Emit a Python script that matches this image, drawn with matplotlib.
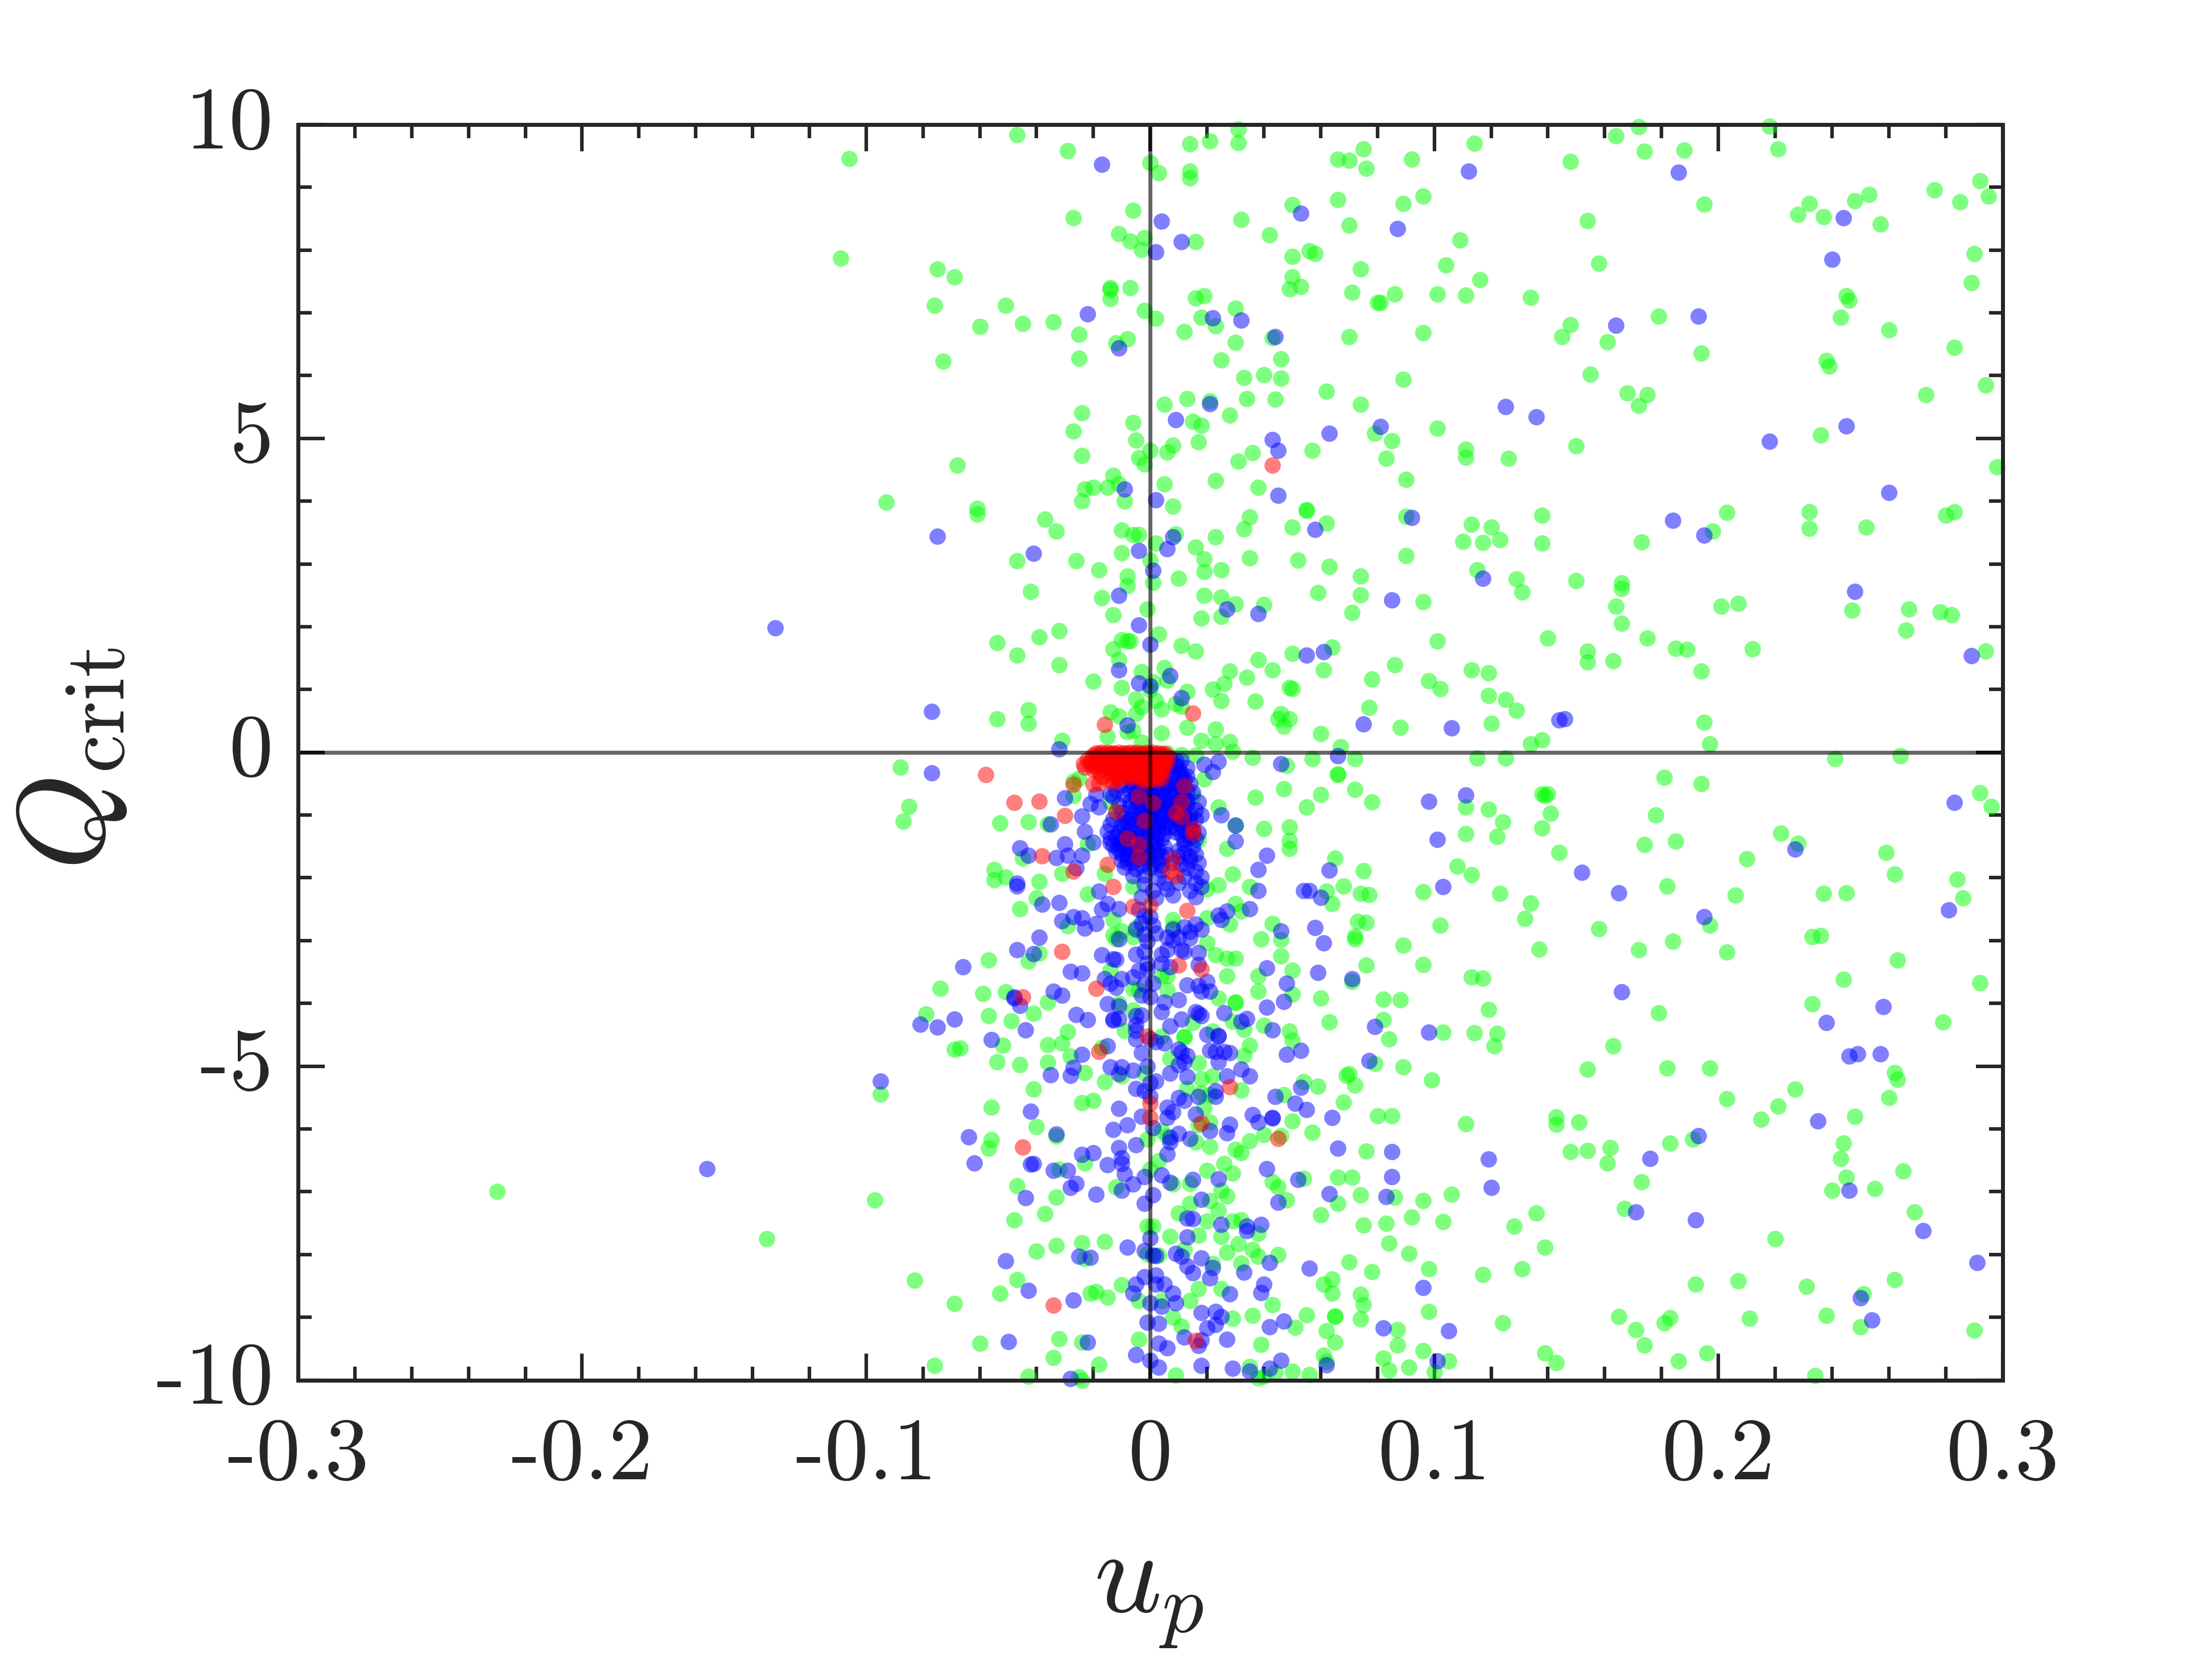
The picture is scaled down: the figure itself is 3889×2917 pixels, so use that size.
import matplotlib
matplotlib.use("Agg")
import matplotlib.pyplot as plt
from matplotlib.ticker import MultipleLocator
from matplotlib.transforms import ScaledTranslation

plt.rcParams['mathtext.fontset'] = 'cm'
plt.rcParams['axes.unicode_minus'] = False

x_ticks = [-0.3, -0.2, -0.1, 0, 0.1, 0.2, 0.3]
x_labels = ['-0.3', '-0.2', '-0.1', '0', '0.1', '0.2', '0.3']
y_ticks = [-10, -5, 0, 5, 10]
y_labels = ['-10', '-5', '0', '5', '10']

green_right_top = [
(.114,9.70),(.148,9.41),(.164,9.82),(.172,9.96),(.174,9.57),(.188,9.59),(.218,9.97),(.221,9.61),(.195,8.73),(.096,8.86),
(.154,8.47),(.109,8.16),(.104,7.76),(.116,7.53),(.101,7.30),(.111,7.28),(.134,7.25),(.158,7.79),(.148,6.81),(.145,6.62),
(.161,6.54),(.179,6.95),(.194,6.36),(.155,6.02),(.168,5.72),(.175,5.70),(.172,5.52),(.096,6.68),(.101,5.16),(.111,4.83),
(.111,4.70),(.126,4.68),(.150,4.88),(.138,3.78),(.113,3.63),(.120,3.59),(.123,3.39),(.110,3.36),(.117,3.34),(.138,3.33),
(.115,2.91),(.129,2.76),(.131,2.55),(.150,2.73),(.166,2.70),(.166,2.61),(.164,2.33),(.166,2.05),(.175,1.82),(.140,1.82),
(.154,1.61),(.154,1.44),(.163,1.46),(.185,1.66),(.189,1.64),(.212,1.65),(.194,1.29),(.101,1.77),(.113,1.31),(.119,1.27),
(.098,1.14),(.102,1.01),(.119,.90),(.125,.84),(.129,.67),(.120,.46),(.195,.48),(.134,.13),(.138,.20),(.197,.13),
(.096,2.40),(.198,3.52),(.203,3.82),(.173,3.35),(.201,2.33),(.207,2.37),(.247,2.26),(.267,2.28),(.278,2.24),(.282,2.19),
(.266,1.95),(.294,1.61),(.232,3.83),(.232,3.57),(.252,3.59),(.280,3.78),(.283,3.83),(.298,4.55),(.236,5.05),(.273,5.70),
(.294,5.85),(.283,6.45),(.260,6.73),(.238,6.24),(.239,6.15),(.243,6.93),(.245,7.27),(.246,7.20),(.289,7.48),(.290,7.94),
(.276,8.96),(.285,8.77),(.292,9.10),(.295,8.86),(.253,8.89),(.248,8.79),(.232,8.74),(.228,8.57),(.237,8.53),(.257,8.41),
]
green_right_bottom = [
(.115,-.09),(.125,-.09),(.241,-.10),(.264,-.06),(.181,-.40),(.194,-.50),(.292,-.65),(.296,-.86),(.111,-.87),(.119,-.91),
(.138,-.66),(.140,-.66),(.139,-.69),(.141,-.97),(.138,-1.21),(.124,-1.11),(.111,-1.30),(.122,-1.34),(.144,-1.60),(.178,-1.00),
(.174,-1.47),(.185,-1.42),(.222,-1.29),(.228,-1.45),(.210,-1.70),(.259,-1.60),(.262,-1.94),(.284,-2.02),(.286,-2.32),(.237,-2.25),
(.245,-2.24),(.206,-2.28),(.182,-2.13),(.108,-1.81),(.113,-1.95),(.096,-2.22),(.123,-2.25),(.134,-2.40),(.132,-2.65),(.102,-2.76),
(.158,-2.81),(.197,-2.76),(.233,-2.94),(.236,-2.92),(.184,-3.01),(.172,-3.15),(.137,-3.14),(.203,-3.18),(.096,-3.38),(.113,-3.58),
(.117,-3.60),(.263,-3.31),(.244,-3.62),(.292,-3.67),(.233,-4.01),(.179,-4.15),(.279,-4.30),(.119,-4.10),(.103,-4.46),(.114,-4.47),
(.122,-4.48),(.121,-4.68),(.163,-4.68),(.099,-5.22),(.154,-5.05),(.182,-5.03),(.197,-5.03),(.203,-5.52),(.227,-5.37),(.221,-5.64),
(.215,-5.85),(.262,-5.10),(.263,-5.21),(.260,-5.50),(.248,-5.80),(.244,-6.23),(.243,-6.47),(.245,-6.77),(.240,-6.98),(.255,-6.95),
(.265,-6.67),(.269,-7.32),(.143,-5.81),(.143,-5.93),(.151,-5.89),(.111,-5.92),(.148,-6.36),(.154,-6.34),(.162,-6.30),(.161,-6.54),
(.173,-6.84),(.183,-6.23),(.191,-6.16),(.106,-7.04),(.096,-7.14),(.103,-7.48),(.136,-7.34),(.128,-7.55),(.139,-7.88),(.167,-7.27),
(.098,-8.23),(.117,-8.32),(.131,-8.23),(.220,-7.75),(.192,-8.47),(.207,-8.42),(.231,-8.51),(.262,-8.40),(.251,-8.63),(.098,-8.91),
(.124,-9.09),(.165,-8.99),(.183,-9.01),(.181,-9.09),(.171,-9.20),(.174,-9.44),(.211,-9.02),(.238,-8.97),(.250,-9.15),(.290,-9.21),
(.096,-9.53),(.139,-9.57),(.143,-9.72),(.105,-9.70),(.100,-9.87),(.186,-9.70),(.196,-9.57),(.234,-9.93),
]
green_centre_top = [
(-.047,9.84),(-.029,9.58),(-.106,9.46),(0,9.39),(.003,9.23),(.014,9.69),(.021,9.74),(.031,9.93),(.031,9.71),(.014,9.26),
(.014,9.15),(.066,9.45),(.070,9.43),(.075,9.61),(.076,9.30),(.092,9.45),(.089,8.74),(.066,8.80),(.070,8.40),
(.074,7.70),(.050,8.72),(.032,8.49),(.042,8.24),(.016,8.13),(-.006,8.63),(-.027,8.51),(-.011,8.26),(-.007,8.14),(-.002,8.20),
(-.003,8.01),(.050,7.90),(.056,7.99),(.058,7.94),(.050,7.57),(.053,7.42),(.049,7.38),(.071,7.33),(.080,7.16),(.081,7.16),
(.086,7.30),(.070,6.62),(-.075,7.70),(-.069,7.57),(-.076,7.12),(-.051,7.12),(-.060,6.78),(-.045,6.83),(-.034,6.86),
(-.025,6.66),(-.073,6.23),(-.025,6.28),(-.012,6.52),(-.008,6.58),(-.007,7.40),(-.014,7.40),(-.014,7.37),(-.014,7.23),(-.002,7.04),
(.002,6.91),(.012,6.70),(.016,7.24),(.019,7.27),(.030,7.07),(.018,6.93),(.023,6.79),(.030,6.53),(.043,6.60),(.046,6.27),
(.025,6.25),(.033,5.97),(.040,6.01),(.046,5.96),(.089,5.94),(.034,5.63),(.044,5.62),(.062,5.75),(.074,5.54),(.021,5.60),
(.013,5.63),(.005,5.54),(.028,5.37),(.015,5.27),(.018,5.21),(-.024,5.41),(-.006,5.25),(-.027,5.12),(-.005,4.97),(.008,4.89),
(.006,4.78),(.017,4.94),(0,4.81),(-.004,4.69),(-.002,4.59),(-.024,4.73),(-.068,4.57),(.036,4.77),(.031,4.64),(.057,4.81),
(.079,5.08),(.085,4.96),(.083,4.68),(.090,4.35),(.023,4.33),(.038,4.22),(.005,4.27),(-.013,4.41),(-.011,4.27),(-.023,4.19),
(-.020,4.22),(-.015,4.22),(-.009,4.00),(-.024,4.00),(.008,3.92),(-.093,3.98),(-.061,3.88),(-.061,3.79),(-.037,3.71),(-.033,3.52),
(.055,3.87),(.055,3.85),(.035,3.75),(.033,3.56),(.050,3.59),(.062,3.65),(.090,3.76),(-.010,3.54),(-.006,3.47),(-.004,3.47),
(.009,3.48),(.002,3.33),(.023,3.43),(.016,3.27),(.019,3.08),(-.010,3.18),(-.047,3.05),(-.026,3.05),(-.018,2.91),(0,3.06),
(.035,3.10),(.052,3.06),(.063,2.96),(.090,3.13),(.074,2.81),(.019,2.88),(.025,2.91),(-.008,2.81),(-.008,2.65),(.001,2.71),
(.010,2.77),(-.042,2.56),(-.017,2.46),(.019,2.50),(.025,2.47),(.030,2.36),(.040,2.35),(.025,2.16),(.018,2.14),(.059,2.54),
(.074,2.51),(.071,2.23),(-.001,2.28),(-.013,2.19),(-.032,1.94),(-.039,1.84),(-.054,1.75),(-.047,1.55),(.003,1.88),
(-.010,1.79),(-.008,1.77),(-.007,1.77),(-.013,1.65),(-.011,1.47),(.011,1.70),(.016,1.61),(-.032,1.39),(-.020,1.13),(-.003,1.28),
(.005,1.35),(.038,1.47),(.050,1.57),(.064,1.67),(.043,1.31),(.028,1.29),(.034,1.19),(.061,1.31),(.086,1.39),(.078,1.17),
(-.010,1.03),(.001,1.12),(.006,1.15),(.049,1.03),(.050,1.01),(.026,1.09),(.022,1.00),(.013,.97),(-.109,7.87),
]
green_centre_mid = [
(-.054,.53),(-.043,.68),(-.043,.46),(-.031,.19),(-.014,.64),(-.011,.58),(-.005,.85),(-.003,.72),(-.005,.61),(-.006,.34),
(-.008,.32),(-.015,.25),(-.003,.16),(0,.99),(.002,.82),(.004,.69),(.004,.31),(.009,.78),(.011,.73),(.013,.40),
(.018,.19),(.023,.13),(.023,.37),(.028,.17),(.029,.02),(.036,-.08),(.025,.82),
(.037,.81),(.045,.53),(.046,.61),(.049,.53),(.047,.41),(.048,-.21),(.047,-.58),(.037,-.72),(.055,-.87),(.011,-.04),
(.016,-.05),(.006,-.01),(.019,-.43),(.015,-.70),(.024,-.87),(.030,-1.16),(.040,-1.22),(.049,-1.19),(.049,-1.41),(.049,-1.53),
(.027,-1.53),(.017,-1.40),(-.027,-.69),(-.027,-.46),(-.025,-.42),(-.053,-1.13),(-.043,-1.11),(-.036,-1.14),(-.014,-.79),(-.012,-.95),
(-.022,-1.46),(-.045,-1.69),(-.055,-1.87),(-.055,-2.03),(-.051,-1.99),(-.039,-2.06),(-.031,-1.93),(-.016,-1.93),(-.040,-2.32),(-.046,-2.49),
(-.022,-2.26),(-.006,-2.14),(.020,-2.18),(.029,-1.94),(.024,-2.11),(.035,-2.14),(.030,-2.41),(.032,-2.53),(.028,-2.74),(.020,-2.64),
(.008,-2.67),(.043,-2.73),(.046,-2.98),(.039,-2.97),(-.013,-2.67),(-.029,-2.77),(-.013,-2.91),(-.010,-2.85),(-.005,-2.79),(-.006,-2.94),
(.008,-2.79),(.077,.71),(.088,.40),(.060,.30),(.067,.09),(.057,-.10),(.072,-.10),(.066,-.36),(.066,-.35),(.072,-.59),
(.060,-.67),(.078,-.79),(.065,-1.69),(.075,-1.89),(.068,-2.13),(.062,-2.21),(.064,-2.41),(.074,-2.25),(.077,-2.27),
(.073,-2.69),(.076,-2.71),(.072,-2.93),(.089,-3.07),
(-.088,-.24),(-.085,-.86),(-.087,-1.10),
]
green_centre_low = [
(-.057,-3.31),(-.039,-3.20),(-.043,-3.33),(-.074,-3.76),(-.059,-3.84),(-.051,-3.82),(-.036,-3.98),(-.079,-4.17),(-.057,-4.20),(-.049,-4.28),
(-.041,-4.16),(-.029,-4.45),(-.036,-4.66),(-.031,-4.63),(-.052,-4.67),(-.069,-4.73),(-.067,-4.71),(-.054,-4.93),(-.046,-4.98),(-.036,-4.94),
(-.028,-4.84),(-.023,-5.10),(-.016,-5.25),(-.010,-5.16),(-.041,-5.37),(-.024,-5.58),(-.020,-5.55),(-.095,-5.45),(-.056,-5.66),(-.040,-5.96),
(-.033,-6.12),(-.056,-6.17),(-.057,-6.31),(-.023,-6.54),(-.032,-6.64),(-.047,-6.91),(-.033,-7.09),(-.097,-7.13),(-.037,-7.35),(-.048,-7.45),
(-.012,-6.92),(-.001,-6.16),(0,-6.64),(.003,-6.51),(.008,-6.88),(.014,-6.87),(.016,-6.21),(.021,-6.28),(.030,-6.33),(.032,-6.38),
(.035,-6.19),(.026,-6.55),(.020,-6.66),(.029,-6.71),(.025,-6.98),(.027,-7.07),(.021,-7.14),(.014,-7.19),(.024,-7.30),(.010,-7.34),
(.020,-7.47),(.029,-7.47),(.032,-7.45),(-.001,-7.55),(.001,-7.55),(.007,-7.71),(.017,-7.69),(.025,-7.71),(.038,-7.67),(.031,-7.83),
(.012,-7.92),(.027,-7.97),(.036,-7.92),(.038,-8.03),(.045,-8.00),(.003,-8.01),(-.001,-7.99),(.022,-8.15),(.032,-8.14),(-.024,-7.81),
(-.016,-7.79),(-.033,-7.86),(-.040,-7.95),(-.023,-8.07),(-.083,-8.41),(-.047,-8.40),(-.053,-8.62),(-.010,-8.48),(-.019,-8.59),(-.021,-8.62),
(-.015,-8.68),(-.069,-8.78),(-.004,-8.74),(.004,-8.74),(.014,-8.74),(.017,-8.55),(.025,-8.55),(.043,-8.80),(.008,-9.00),(.011,-9.14),
(.029,-9.02),(.036,-8.97),(.051,-9.16),(.055,-8.96),(.065,-8.98),(.065,-8.99),(.074,-9.03),(.062,-9.22),(.065,-9.40),(.087,-9.20),
(.087,-9.44),(.075,-8.80),(.074,-8.64),(.064,-8.62),(.061,-8.47),(.064,-8.39),(.078,-8.27),(.070,-8.12),(.091,-7.98),(.084,-7.82),
(.083,-7.50),(.075,-7.53),(.092,-7.40),(.060,-7.37),(.066,-7.19),(.074,-7.05),(.086,-7.09),(.048,-7.13),
(.045,-6.92),(.043,-6.84),(.054,-6.79),(.066,-6.77),(.071,-6.77),(.076,-6.35),(.057,-6.05),(.046,-6.11),(.040,-6.09),(.050,-5.87),
(.080,-5.79),(.085,-5.79),(.068,-5.57),(.072,-5.30),(.070,-5.12),(.069,-5.15),(.089,-5.01),(.079,-4.96),(.054,-5.25),(.059,-5.32),
(.047,-5.46),(.032,-5.38),(.018,-5.20),(.022,-5.16),(.013,-5.36),(.018,-5.43),(.021,-5.46),(.019,-5.66),(.021,-5.89),(.017,-5.94),
(.004,-6.03),(.006,-6.12),(.035,-4.67),(.033,-4.83),(.017,-4.95),(.007,-4.88),(-.002,-5.11),(.063,-4.30),(.082,-4.26),(.084,-4.57),
(.040,-4.35),(.049,-4.44),(.050,-4.59),(.038,-3.81),(.060,-3.92),(.082,-3.93),(.088,-3.94),(.050,-3.85),(.050,-3.47),(.038,-3.56),
(.027,-3.56),(.024,-3.92),(.030,-3.98),(.030,-3.99),(.029,-4.29),(.033,-4.41),(.022,-4.44),(.012,-4.54),(.012,-4.52),(.015,-4.31),
(.023,-3.23),(.027,-3.28),(.030,-3.28),(.046,-3.25),(.072,-2.97),(.076,-3.39),
(.071,-3.65),(.006,-3.56),(.006,-3.79),(.004,-3.56),(-.004,-3.79),(-.006,-3.77),(-.011,-4.00),(-.014,-3.47),(-.006,-4.11),(-.009,-4.43),
(.004,-4.52),(-.017,-4.70),(-.012,-2.97),(.020,-3.04),(.061,-9.61),(.062,-9.71),(.082,-9.65),(.084,-9.84),(.091,-9.80),
(.035,-9.79),(.038,-9.97),(.040,-9.94),(.044,-9.88),(.050,-9.86),(.056,-9.91),(.009,-9.92),(-.018,-9.75),(-.034,-9.64),(-.032,-9.34),
(-.024,-9.40),(-.004,-9.35),(.039,-9.43),(-.060,-9.42),(-.076,-9.77),(-.043,-9.94),(-.025,-9.95),(-.024,-10.0),(-.230,-7.00),(-.135,-7.75),
]

blue_right = [
(.112,9.26),(.186,9.24),(.244,8.51),(.240,7.85),(.164,6.80),(.193,6.95),(.125,5.51),(.136,5.34),(.218,4.95),(.245,5.20),
(.184,3.69),(.195,3.46),(.260,4.14),(.117,2.77),(.248,2.56),(.289,1.54),(.106,.39),(.144,.51),(.146,.53),
(.098,-.78),(.111,-.68),(.101,-1.39),(.152,-1.91),(.103,-2.14),(.165,-2.24),(.195,-2.62),(.227,-1.54),(.283,-.80),(.281,-2.51),
(.166,-3.82),(.258,-4.05),(.238,-4.31),(.098,-4.46),(.246,-4.84),(.249,-4.80),(.257,-4.80),(.235,-5.87),(.193,-6.11),(.176,-6.47),
(.119,-6.48),(.120,-6.93),(.171,-7.32),(.192,-7.45),(.246,-6.98),(.272,-7.62),(.291,-8.13),(.096,-8.53),(.250,-8.69),(.254,-9.04),
(.105,-9.22),(.101,-9.70),
]
blue_top = [
(-.017,9.37),(.004,8.46),(.011,8.13),(.002,7.97),(.053,8.59),(.087,8.34),(-.022,6.98),(.022,6.92),(.032,6.88),(.044,6.62),
(-.011,6.44),(.021,5.55),(.009,5.30),(.043,4.98),(.045,4.81),(.063,5.08),(.081,5.19),(-.009,4.19),(.002,4.02),(.045,4.09),
(-.075,3.44),(.008,3.43),(.006,3.24),(-.004,3.21),(-.041,3.17),(.001,2.90),(-.011,2.50),(.027,2.28),(.038,2.21),(.085,2.43),
(-.004,2.03),(0,1.72),(.055,1.55),(.061,1.60),(-.011,1.31),(.007,1.22),(-.004,1.10),(0,1.06),(.092,3.74),(.058,3.55),
(-.132,1.98),(-.156,-6.63),(-.077,.65),(-.077,-.33),(.075,.45),(.066,-.06),(.063,-1.88),(.056,-2.20),(.060,-2.31),(.058,-2.79),
]
blue_mid = [
(.011,.87),(-.008,.43),(-.032,.05),(.019,-.19),(.024,-.15),(.022,-.31),(.046,-.18),(.011,-.13),(.013,-.25),(.012,-.43),
(-.019,-.67),(-.030,-.73),(-.014,-.66),(-.021,-.82),(-.018,-.87),(.017,-.79),(.018,-1.0),(.025,-1.0),(.030,-1.16),(.030,-1.42),
(-.035,-1.14),(-.024,-1.02),(-.023,-1.26),(-.020,-1.43),(-.046,-1.52),(-.043,-1.64),(-.030,-1.46),(-.033,-1.68),(-.029,-1.64),(-.024,-1.64),
(-.026,-1.84),(.041,-1.64),(.038,-1.87),(.018,-1.99),(.038,-2.20),(.054,-2.20),(-.047,-2.09),(-.047,-2.13),(-.038,-2.42),(-.032,-2.39),
(-.018,-2.21),(-.015,-2.41),(-.017,-2.50),(-.011,-2.49),(.027,-2.53),(.024,-2.59),(.025,-2.67),(.035,-2.49),(.046,-2.85),(-.027,-2.62),
(-.024,-2.64),(-.031,-2.68),(-.019,-2.73),(-.023,-2.80),(-.039,-2.95),
]
blue_dense = [
(.002,-.12),(.006,-.18),(.009,-.21),(.004,-.31),(.008,-.34),(.010,-.30),(.001,-.40),(.005,-.46),(.009,-.48),(.013,-.38),
(-.007,-.47),(-.003,-.42),(-.010,-.52),(-.006,-.56),(-.002,-.52),(.002,-.58),(.006,-.55),(.010,-.60),(.014,-.50),(-.012,-.60),
(-.009,-.68),(-.005,-.65),(-.001,-.67),(.003,-.66),(.007,-.70),(.011,-.68),(.015,-.64),(-.013,-.70),(-.007,-.78),(-.003,-.76),
(.001,-.74),(.005,-.80),(.009,-.78),(.013,-.76),(-.011,-.84),(-.005,-.88),(-.001,-.86),(.003,-.90),(.007,-.86),(.012,-.88),
(.016,-.92),(-.010,-.95),(-.006,-.98),(-.002,-.96),(.002,-.99),(.006,-.96),(.010,-.98),(.014,-1.00),(-.013,-1.06),(-.009,-1.04),
(-.004,-1.08),(.000,-1.05),(.004,-1.09),(.008,-1.06),(.012,-1.08),(.016,-1.06),(-.014,-1.15),(-.010,-1.17),(-.006,-1.14),(-.001,-1.18),
(.003,-1.16),(.007,-1.19),(.011,-1.16),(.014,-1.18),(-.015,-1.26),(-.011,-1.28),(-.007,-1.25),(-.003,-1.29),(.001,-1.26),(.005,-1.30),
(.009,-1.27),(.013,-1.30),(.017,-1.28),(-.014,-1.37),(-.010,-1.39),(-.005,-1.36),(.000,-1.40),(.004,-1.38),(.012,-1.40),
(.016,-1.38),(-.013,-1.48),(-.009,-1.50),(-.005,-1.55),(.001,-1.49),(.005,-1.51),(.010,-1.56),(.015,-1.50),(-.012,-1.58),(-.008,-1.62),
(-.003,-1.64),(.002,-1.60),(.006,-1.63),(.012,-1.60),(.016,-1.62),(-.010,-1.72),(-.006,-1.75),(-.001,-1.70),(.003,-1.74),(.008,-1.76),
(.014,-1.72),(.017,-1.76),(-.009,-1.83),(-.005,-1.86),(.000,-1.84),(.004,-1.88),(.013,-1.84),(.016,-1.90),(-.006,-1.97),(-.002,-1.96),
(.003,-2.00),(.012,-1.98),(.005,-2.08),(-.002,-2.10),(.010,-2.08),(.016,-2.08),(.001,-2.20),(.006,-2.18),(.014,-2.20),(.018,-2.14),
(-.003,-2.30),(.002,-2.32),(.008,-2.28),(.016,-2.30),(-.004,-2.50),(-.002,-2.60),(.000,-2.62),(-.003,-2.72),(.001,-2.76),(-.005,-2.82),
(.008,-2.82),(.012,-2.78),(.016,-2.74),(.014,-2.86),(.018,-2.82),(-.002,-2.90),(.002,-2.88),(.010,-2.95),(.014,-2.96),(.006,-2.95),
]
blue_dense_core = [
(.007,-.10),(.009,-.13),(.004,-.16),(.010,-.24),(.007,-.26),(.002,-.24),(.011,-.36),(.007,-.40),(.003,-.44),(.000,-.47),
(.011,-.44),(.008,-.52),(.004,-.50),(.000,-.55),(-.004,-.50),(-.004,-.58),(.012,-.54),(.008,-.60),(.004,-.62),(.000,-.62),
(-.003,-.62),(-.007,-.62),(.013,-.62),(.009,-.66),(.005,-.70),(.001,-.70),(-.002,-.72),(-.005,-.73),(.012,-.72),(.008,-.74),
(.003,-.78),(-.001,-.79),(.011,-.82),(.007,-.82),(.001,-.84),(-.004,-.83),(-.007,-.86),(.013,-.84),(.009,-.88),(.005,-.90),
(-.003,-.92),(.001,-.92),(.011,-.93),(.007,-.94),(.004,-.96),(-.004,-1.00),(.000,-.98),(.012,-1.02),(.008,-1.01),(.004,-1.03),
(-.002,-1.03),(-.007,-1.06),(.014,-1.08),(.010,-1.11),(.006,-1.12),(.002,-1.12),(-.002,-1.12),(-.008,-1.11),(.013,-1.14),(.009,-1.21),
(.005,-1.20),(.001,-1.21),(-.004,-1.22),(-.009,-1.21),(.012,-1.23),(.003,-1.28),(-.001,-1.30),(-.005,-1.30),(-.009,-1.31),(.015,-1.25),
(.011,-1.32),(.002,-1.34),(-.003,-1.36),(-.007,-1.38),(-.012,-1.34),(.014,-1.36),(.002,-1.44),(-.002,-1.46),(-.007,-1.44),(-.011,-1.45),
(-.014,-1.44),(.012,-1.46),(-.003,-1.52),(-.007,-1.54),(-.011,-1.54),(.003,-1.55),(-.001,-1.56),(-.005,-1.60),(-.010,-1.62),(.000,-1.64),
(.004,-1.66),(.010,-1.66),(.014,-1.66),(-.008,-1.68),(-.004,-1.70),(-.008,-1.76),(.001,-1.78),(.011,-1.78),(-.003,-1.80),(.004,-1.80),
]
blue_low = [
(-.047,-3.15),(-.041,-3.21),(-.066,-3.42),(-.028,-3.49),(-.024,-3.52),(-.017,-3.23),(-.013,-3.29),(-.012,-3.30),(-.016,-3.61),(-.014,-3.68),
(-.010,-3.61),(-.012,-3.74),(-.006,-3.58),(-.005,-3.22),(-.002,-3.17),(-.001,-3.36),(-.001,-3.45),(-.004,-3.47),(.004,-3.22),(.004,-3.36),
(.007,-3.42),(.006,-3.15),(.011,-3.15),(.012,-3.17),(.017,-3.19),(.008,-2.99),(-.001,-3.01),(-.011,-2.97),(.061,-3.04),(.017,-3.38),
(.041,-3.44),(.059,-3.51),(.071,-3.61),(.048,-3.68),(.047,-3.97),(.041,-4.06),(.001,-3.68),(-.002,-3.70),(.013,-3.71),(.017,-3.72),
(.020,-3.65),(.018,-3.81),(.021,-3.81),(0,-3.90),(-.003,-3.87),(.005,-3.98),(.004,-4.13),(.010,-3.94),(-.034,-3.81),(-.031,-3.87),
(-.048,-3.90),(-.048,-3.92),(-.046,-4.03),(-.015,-4.01),(-.011,-4.04),(-.026,-4.18),(-.022,-4.26),(-.013,-4.25),(-.011,-4.24),(-.013,-4.27),
(-.005,-4.20),(-.003,-4.19),(-.069,-4.25),(-.075,-4.38),(-.081,-4.33),(-.044,-4.42),(-.056,-4.58),(-.005,-4.34),(-.005,-4.43),(.007,-4.36),
(.011,-4.25),(.016,-4.13),(.017,-4.16),(.018,-4.20),(.026,-4.15),(.032,-4.29),(.034,-4.24),(.020,-4.50),(.024,-4.51),(.024,-4.52),
(.043,-4.42),(.079,-4.37),(-.005,-4.57),(0,-4.57),(.005,-4.63),(.002,-4.61),(-.015,-4.68),(-.024,-4.81),(-.003,-4.79),(.021,-4.75),
(.010,-4.73),(.011,-4.78),(.013,-4.83),(.012,-4.93),(.010,-4.98),(.023,-4.77),(.026,-4.77),(.028,-4.79),(.024,-4.93),(.048,-4.81),
(.053,-4.75),(.077,-4.91),(-.014,-5.01),(-.010,-5.01),(-.006,-5.07),(-.001,-5.00),(-.027,-5.02),(-.011,-5.12),(-.035,-5.14),(-.028,-5.15),
(.007,-5.11),(.013,-5.17),(.027,-5.16),(.032,-5.05),(.035,-5.16),(.002,-5.24),(0,-5.27),(-.005,-5.36),(-.002,-5.39),(0,-5.48),
(.010,-5.50),(.012,-5.55),(.017,-5.48),(.023,-5.39),(.023,-5.48),(.053,-5.34),(.044,-5.48),(.051,-5.59),(.055,-5.69),(-.011,-5.67),
(.006,-5.66),(.008,-5.73),(.006,-5.82),(.016,-5.76),(-.003,-5.80),(.036,-5.77),(.043,-5.82),(.038,-5.89),(.043,-5.83),(-.042,-5.72),
(.064,-5.82),(-.008,-5.94),(-.013,-6.01),(.001,-5.98),(.028,-5.93),(.021,-6.03),(.027,-6.06),(.010,-6.07),(.007,-6.14),(.007,-6.21),
(.014,-6.15),(-.033,-6.08),(-.064,-6.13),(-.005,-6.25),(-.011,-6.30),(.006,-6.40),(-.024,-6.41),(-.020,-6.38),(-.010,-6.46),(-.010,-6.55),
(-.015,-6.57),(-.042,-6.56),(-.041,-6.55),(-.062,-6.54),(-.034,-6.66),(-.029,-6.66),(-.009,-6.72),(-.002,-6.76),(.004,-6.73),(.007,-6.85),
(.015,-6.81),(.024,-6.80),(.041,-6.63),(.052,-6.81),(.066,-6.31),(.085,-6.36),(.085,-6.76),(-.026,-6.87),(-.028,-6.93),(-.006,-6.88),
(-.010,-6.98),(-.019,-7.04),(-.044,-7.10),(.001,-7.05),(-.002,-7.19),(.018,-7.12),(.063,-7.03),(.045,-7.17),(.083,-7.08),(.013,-7.42),
(.015,-7.43),(.025,-7.52),(.034,-7.55),(.034,-7.62),(.039,-7.52),(0,-7.74),(.013,-7.72),(-.008,-7.88),(-.002,-7.94),(.001,-8.01),
(.002,-8.02),(.009,-7.98),(.011,-8.03),(.018,-8.06),(.022,-8.21),(.013,-8.18),(.015,-8.29),(.033,-8.28),(.042,-8.13),(.056,-8.22),
(-.051,-8.10),(-.025,-8.03),(-.021,-8.05),(.002,-8.33),(-.002,-8.36),(.021,-8.37),(.002,-8.47),(.005,-8.47),(-.005,-8.47),(-.006,-8.62),
(.008,-8.62),(.040,-8.47),(.039,-8.61),(.028,-8.63),(-.043,-8.57),(-.027,-8.73),(0,-8.77),(.009,-8.77),(.004,-8.83),(.018,-8.93),
(.023,-8.91),(.025,-8.99),(-.001,-9.08),(.003,-9.10),(.023,-9.12),(.020,-9.17),(.042,-9.15),(.047,-9.06),(.082,-9.17),(.012,-9.32),
(.018,-9.36),(.027,-9.35),(.017,-9.45),(-.050,-9.39),(-.022,-9.40),(.003,-9.42),(.006,-9.49),(-.005,-9.60),(0,-9.69),(.046,-9.69),
(.003,-9.80),(.018,-9.77),(.029,-9.81),(.042,-9.81),(.035,-9.86),(.062,-9.76),(-.028,-9.98),(-.095,-5.24),
]

red_outliers = [
(.043,4.57),(-.058,-.36),(-.048,-.80),(-.039,-.78),(-.030,-1.01),(-.038,-1.65),(-.027,-1.90),(-.016,.44),(.015,.62),(-.027,-.51),
(-.020,-.51),(-.018,-.49),(.012,-.54),(-.004,-.70),(.001,-.81),(-.012,-.94),(-.002,-1.09),(.009,-.96),(.011,-1.03),(.011,-.79),
(.015,-1.22),(.015,-1.29),(-.008,-1.37),(-.004,-1.46),(-.004,-1.67),(.008,-1.71),(.007,-1.90),(.009,-1.97),(-.015,-1.79),(-.013,-2.14),
(-.006,-2.46),(0,-2.44),(.013,-2.52),(-.031,-3.17),(.010,-3.39),(.018,-3.45),(-.019,-3.76),(-.045,-3.90),(-.001,-4.52),(-.018,-4.77),
(.028,-5.33),(0,-5.59),(0,-5.82),(.018,-5.91),(.045,-6.15),(-.045,-6.29),(-.034,-8.81),(.016,-9.37),
]
red_cap = [
(-.019,-.01),(-.017,0),(-.015,0),(-.013,-.01),(-.011,0),(-.009,-.01),(-.007,0),(-.005,0),(-.003,-.01),(-.001,0),
(.001,0),(.003,-.01),(.005,-.02),(-.020,-.05),(-.017,-.06),(-.014,-.05),(-.011,-.07),(-.008,-.05),(-.005,-.06),(-.002,-.05),
(.001,-.07),(.004,-.06),(.006,-.06),(-.022,-.12),(-.019,-.11),(-.016,-.13),(-.013,-.12),(-.010,-.14),(-.007,-.12),(-.004,-.13),
(-.001,-.11),(.002,-.14),(.005,-.12),(.006,-.13),(-.0235,-.18),(-.021,-.19),(-.018,-.20),(-.015,-.18),(-.012,-.21),(-.009,-.19),
(-.006,-.20),(-.003,-.22),(0,-.19),(.003,-.21),(.005,-.19),(-.023,-.24),(-.020,-.27),(-.017,-.25),(-.014,-.26),(-.011,-.28),
(-.008,-.25),(-.005,-.27),(-.002,-.26),(.001,-.28),(.004,-.26),(-.018,-.31),(-.014,-.33),(-.010,-.32),(-.007,-.31),(-.004,-.34),
(-.001,-.33),(.002,-.32),(.004,-.31),(-.017,-.38),(-.013,-.39),(-.009,-.37),(-.005,-.38),(-.003,-.40),(.000,-.39),(.003,-.38),
(-.015,-.43),(-.011,-.44),(-.003,-.44),(-.001,-.46),(.002,-.44),(.004,-.42),(-.013,-.48),
(-.018,-.02),(-.016,-.03),(-.014,-.02),(-.012,-.03),(-.010,-.03),(-.008,-.02),(-.006,-.03),(-.004,-.02),(-.002,-.03),(0,-.02),
(.002,-.03),(.004,-.03),(-.019,-.08),(-.015,-.09),(-.012,-.09),(-.009,-.09),(-.006,-.09),(-.003,-.08),(0,-.09),(.003,-.09),
(.005,-.09),(-.021,-.15),(-.017,-.16),(-.014,-.15),(-.011,-.16),(-.008,-.16),(-.005,-.16),(-.002,-.17),(.001,-.16),(.004,-.16),
(-.019,-.23),(-.016,-.22),(-.013,-.23),(-.010,-.23),(-.007,-.23),(-.004,-.24),(-.001,-.23),(.002,-.24),(.005,-.23),
(-.012,-.35),(-.008,-.35),(-.006,-.35),(-.003,-.36),(-.001,-.36),(.001,-.36),(.003,-.34),(-.011,-.40),(-.007,-.41),(-.001,-.42),(.001,-.41),
]

green_all = green_right_top + green_right_bottom + green_centre_top + green_centre_mid + green_centre_low
blue_all = blue_right + blue_top + blue_mid + blue_dense + blue_dense_core + blue_low
red_all = red_outliers + red_cap

W, H, DPI = 3889, 2917, 600
LEFT, RIGHT, TOP, BOTTOM = 524, 3520.5, 219, 2426.5
fig = plt.figure(figsize=(W / DPI, H / DPI), dpi=DPI, facecolor='white')
ax = fig.add_axes([LEFT / W, 1 - BOTTOM / H, (RIGHT - LEFT) / W, (BOTTOM - TOP) / H])
INK = '#262626'

for pts, col in [(green_all, '#00ff00'), (blue_all, '#0000ff'), (red_all, '#ff0000')]:
    ax.scatter([p[0] for p in pts], [p[1] for p in pts], s=12, c=col, alpha=0.5,
               linewidths=0, clip_on=False, zorder=2)

ax.axhline(0, color='black', alpha=0.6, lw=0.84, zorder=3)
ax.axvline(0, color='black', alpha=0.6, lw=0.84, zorder=3)

ax.set_xlim(-0.3, 0.3)
ax.set_ylim(-10, 10)
ax.set_xticks(x_ticks)
ax.set_xticklabels(x_labels, fontfamily='cmr10', fontsize=18.6, color=INK)
ax.set_yticks(y_ticks)
ax.set_yticklabels(y_labels, fontfamily='cmr10', fontsize=18.6, color=INK)
ax.xaxis.set_minor_locator(MultipleLocator(0.02))
ax.yaxis.set_minor_locator(MultipleLocator(1))
ax.tick_params(which='major', direction='in', length=5.6, width=0.75, color=INK, top=True, right=True)
ax.tick_params(which='minor', direction='in', length=2.9, width=0.75, color=INK, top=True, right=True)
ax.tick_params(axis='x', which='major', pad=8)
ax.tick_params(axis='y', which='major', pad=5.2)
for s in ax.spines.values():
    s.set_linewidth(0.84)
    s.set_color(INK)
    s.set_zorder(5)

lift = ScaledTranslation(0, 1.5 / 72, fig.dpi_scale_trans)
for lbl in ax.get_yticklabels():
    lbl.set_transform(lbl.get_transform() + lift)

ax.set_xlabel(r'$u_p$', fontsize=25, color=INK)
ax.set_ylabel(r'$Q_{\mathrm{crit}}$', fontsize=26, color=INK)
ax.xaxis.set_label_coords(0.499, -0.124)
ax.yaxis.set_label_coords(-0.0990, 0.495)

fig.savefig('out.png', dpi=DPI, facecolor='white')
